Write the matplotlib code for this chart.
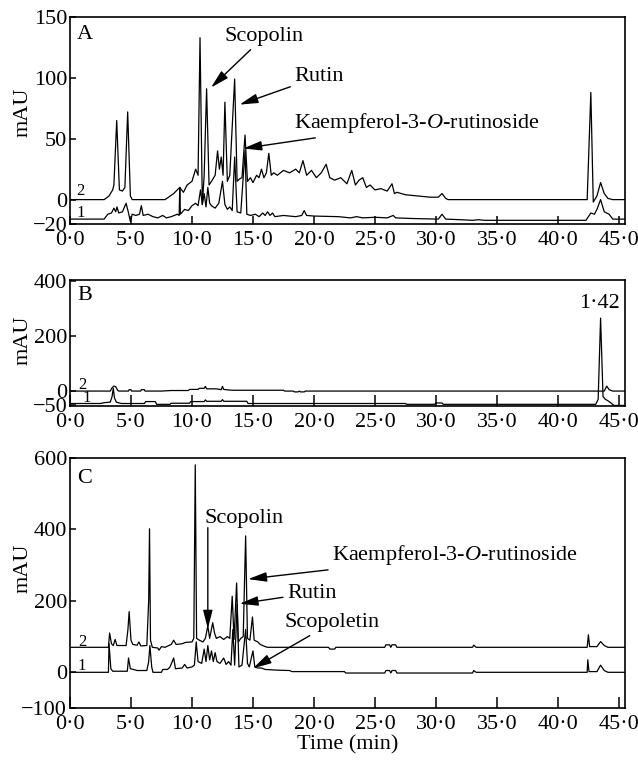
import matplotlib

matplotlib.use("Agg")
import matplotlib.pyplot as plt
import numpy as np

matplotlib.rcParams.update({
    "font.family": "Liberation Serif",
    "font.size": 16,
    "mathtext.fontset": "custom",
    "mathtext.rm": "Liberation Serif",
    "mathtext.it": "Liberation Serif:italic",
    "axes.linewidth": 1.2,
})

# Chromatogram traces, (time in min, mAU) pairs.
A_TRACE2 = [
    (0, 0), (2.8, 0), (3.2, 3), (3.5, 8), (3.6, 12), (3.83, 65), (4.05, 8), (4.3, 7),
    (4.5, 10), (4.73, 72), (4.95, 3), (5.1, 0), (7.8, 0), (8.5, 5), (9.0, 10), (9.3, 6),
    (9.6, 12), (10.0, 15), (10.3, 25), (10.5, 20), (10.66, 133), (10.85, -4), (11.0, 20),
    (11.2, 91), (11.4, 12), (11.6, 15), (11.9, 20), (12.1, 40), (12.25, 25), (12.4, 35),
    (12.55, 20), (12.7, 80), (12.9, 15), (13.1, 20), (13.3, 60), (13.5, 99), (13.7, 15),
    (13.9, 17), (14.1, 18), (14.35, 53), (14.55, 15), (14.8, 18), (15.0, 14), (15.3, 20),
    (15.5, 18), (15.7, 25), (15.9, 18), (16.1, 22), (16.3, 38), (16.5, 20), (16.7, 22),
    (17.0, 20), (17.5, 24), (18.0, 22), (18.5, 25), (18.8, 22), (19.1, 32), (19.4, 20),
    (19.8, 24), (20.2, 18), (20.6, 22), (21.0, 29), (21.3, 18), (21.7, 16), (22.2, 18),
    (22.7, 13), (23.1, 24), (23.4, 12), (23.7, 16), (24.0, 18), (24.3, 10), (24.6, 12),
    (25.0, 8), (25.5, 9), (26.0, 7), (26.4, 13), (26.6, 5), (26.8, 6), (27.5, 4),
    (28.5, 3), (29.5, 2), (30.2, 2), (30.5, 5), (30.8, 1), (31.0, 0), (42.4, 0),
    (42.7, 88), (42.9, -2), (43.2, 3), (43.5, 14), (43.8, 5), (44.1, 1), (44.5, 0),
    (45.5, 0),
]
A_TRACE1 = [
    (0, -16), (2.8, -16), (3.1, -12), (3.4, -11), (3.6, -7), (3.75, -10), (3.85, -6),
    (4.0, -11), (4.3, -10), (4.6, -3), (4.8, -11), (4.95, -18), (5.1, -12), (5.4, -13),
    (5.7, -12), (5.85, -5), (6.0, -13), (6.4, -12), (6.8, -14), (7.2, -15), (7.6, -13),
    (7.9, -15), (8.3, -14), (8.8, -12), (8.95, -13), (9.0, 10), (9.05, -12), (9.4, -8),
    (9.7, -9), (10.0, -5), (10.3, -3), (10.5, -5), (10.7, 8), (10.85, -4), (11.0, 5),
    (11.15, -6), (11.3, 10), (11.45, -3), (11.6, -5), (11.9, -7), (12.2, -3), (12.5, 15),
    (12.7, -4), (12.9, -8), (13.1, -6), (13.3, -9), (13.5, 35), (13.7, -10), (14.0, -11),
    (14.35, 40), (14.5, -12), (14.8, -13), (15.2, -12), (15.5, -14), (15.8, -11),
    (16.0, -13), (16.2, -10), (16.4, -13), (16.6, -11), (16.8, -14), (17.5, -13),
    (18.5, -14), (19.0, -13), (19.2, -9), (19.4, -13), (20.0, -13.5), (22.0, -14),
    (23.0, -15), (23.5, -14), (24.0, -15), (25.0, -14.5), (26.0, -15), (26.5, -13),
    (26.7, -15), (28.0, -15.5), (30.2, -16), (30.5, -12), (30.8, -16), (32.0, -16.5),
    (33.0, -17), (33.5, -16.5), (34.0, -17), (42.3, -17), (42.5, -14), (42.7, -11),
    (43.0, -12), (43.2, -8), (43.5, 0), (43.8, -10), (44.2, -12), (44.5, -16), (45.5, -16),
]

B_TRACE2 = [
    (0, 0), (3.3, 0), (3.45, 12), (3.6, 18), (3.75, 16), (3.9, 3), (4.0, 0), (4.8, 0),
    (4.85, 5), (5.0, 5), (5.05, 0), (5.8, 0), (5.85, 5), (6.1, 5), (6.15, 0), (7.5, 0),
    (8.3, 2), (9.7, 2), (9.8, 6), (10.5, 6), (10.6, 10), (11.0, 10), (11.1, 17),
    (11.2, 8), (12.0, 8), (12.4, 5), (12.5, 17), (12.6, 6), (13.0, 4), (13.3, 3),
    (17.5, 3), (17.6, 0), (18.3, 0), (18.4, -3), (18.7, -3), (18.8, 0), (18.9, -3),
    (19.2, -3), (19.3, 0), (43.8, 0), (44.0, 18), (44.2, 5), (44.5, 0), (45.5, 0),
]
B_TRACE1 = [
    (0, -45), (2.5, -45), (2.8, -42), (3.3, -40), (3.45, -20), (3.55, 10), (3.65, -25),
    (3.8, -40), (4.2, -45), (6.1, -45), (6.2, -38), (7.0, -38), (7.1, -48), (8.2, -48),
    (8.3, -44), (9.8, -44), (9.9, -38), (11.0, -38), (11.1, -32), (11.2, -37),
    (12.4, -37), (12.5, -31), (12.6, -37), (14.5, -37), (14.6, -45), (27.5, -45),
    (27.6, -48), (29.9, -48), (30.0, -43), (30.5, -43), (30.6, -48), (43.1, -48),
    (43.3, -30), (43.5, 264), (43.7, -20), (43.9, -30), (44.1, -35), (44.4, -45),
    (44.6, -52), (45.5, -52),
]

C_TRACE2 = [
    (0, 70), (3.15, 70), (3.25, 110), (3.4, 80), (3.55, 75), (3.7, 92), (3.85, 75),
    (4.6, 75), (4.75, 120), (4.85, 170), (5.0, 90), (5.15, 78), (5.5, 76), (5.65, 85),
    (5.8, 74), (6.3, 75), (6.45, 200), (6.52, 402), (6.6, 90), (6.75, 70), (7.2, 68),
    (7.3, 62), (7.5, 72), (7.8, 70), (8.1, 75), (8.3, 78), (8.5, 90), (8.7, 78),
    (9.2, 80), (9.5, 84), (10.0, 85), (10.15, 95), (10.27, 581), (10.38, 95), (10.6, 90),
    (10.9, 85), (11.1, 95), (11.3, 130), (11.45, 95), (11.7, 139), (11.85, 110),
    (12.0, 95), (12.3, 100), (12.6, 92), (12.9, 100), (13.1, 95), (13.3, 213),
    (13.45, 92), (13.66, 250), (13.8, 85), (14.0, 95), (14.2, 100), (14.4, 382),
    (14.55, 95), (14.75, 90), (14.96, 155), (15.1, 90), (15.4, 85), (15.6, 78),
    (16.0, 72), (16.2, 70), (21.2, 70), (21.3, 65), (21.7, 65), (21.8, 70), (25.8, 70),
    (25.9, 77), (26.2, 77), (26.3, 70), (26.4, 77), (26.7, 77), (26.8, 70), (33.0, 70),
    (33.1, 76), (33.3, 70), (42.4, 70), (42.5, 105), (42.6, 72), (43.2, 72), (43.5, 86),
    (43.8, 75), (44.1, 70), (45.5, 70),
]
C_TRACE1 = [
    (0, 0), (3.15, 0), (3.2, 80), (3.35, 10), (3.5, 3), (4.7, 3), (4.8, 40), (4.95, 10),
    (5.2, 8), (5.5, 5), (6.3, 5), (6.45, 30), (6.55, 75), (6.7, 15), (6.8, 0), (7.5, 0),
    (7.6, 8), (8.0, 8), (8.2, 15), (8.5, 40), (8.65, 10), (9.2, 12), (9.4, 22),
    (9.6, 12), (10.0, 15), (10.2, 20), (10.35, 85), (10.5, 30), (10.8, 25), (11.0, 65),
    (11.15, 30), (11.3, 75), (11.45, 35), (11.6, 60), (11.75, 30), (11.9, 55),
    (12.05, 30), (12.3, 25), (12.6, 40), (12.8, 22), (13.0, 30), (13.2, 20),
    (13.35, 120), (13.5, 20), (13.7, 190), (13.85, 15), (14.1, 20), (14.4, 120),
    (14.55, 25), (14.7, 15), (15.0, 60), (15.15, 15), (15.4, 12), (15.7, 12), (16.0, 8),
    (17.0, 6), (18.0, 5), (18.2, 2), (22.5, 2), (22.6, -2), (25.8, -2), (25.9, 5),
    (26.2, 5), (26.3, -2), (26.4, 5), (26.7, 5), (26.8, -2), (33.0, -2), (33.1, 5),
    (33.3, 0), (42.4, 0), (42.45, 35), (42.55, 2), (43.2, 2), (43.5, 20), (43.8, 5),
    (44.1, 0), (45.5, 0),
]

X_TICKS = [0, 5, 10, 15, 20, 25, 30, 35, 40, 45]
A_YTICKS = [-20, 0, 50, 100, 150]
B_YTICKS = [-50, 0, 200, 400]
C_YTICKS = [-100, 0, 200, 400, 600]

KAEMPFEROL = "Kaempferol-3-$O$-rutinoside"


def _setup_panel(ax, ylim, yticks, letter, letter_y, tick_len, label_y, trace_labels):
    ax.set_xlim(0, 45.5)
    ax.set_ylim(*ylim)
    ax.set_xticks(X_TICKS)
    ax.set_xticklabels([f"{t:.1f}".replace(".", "·") for t in X_TICKS])
    ax.set_yticks(yticks)
    ax.tick_params(axis="x", direction="in", length=tick_len, width=1.1, pad=5)
    ax.tick_params(axis="y", direction="in", length=4, width=1.1, pad=2)
    ax.set_ylabel("mAU")
    ax.yaxis.set_label_coords(-0.068, label_y)
    ax.text(0.013, letter_y, letter, transform=ax.transAxes, va="center", ha="left")
    for (t, v, s) in trace_labels:
        ax.text(t, v, s, fontsize=12, ha="left", va="center")


def _plot_trace(ax, pairs):
    arr = np.array(pairs, dtype=float)
    ax.plot(arr[:, 0], arr[:, 1], color="black", linewidth=0.9)


def _arrow(ax, text, tip, text_pos, **kw):
    ax.annotate(
        text, xy=tip, xytext=text_pos, ha="left", va="center",
        arrowprops=dict(arrowstyle="-|>,head_length=0.7,head_width=0.18",
                        color="black", lw=1.0, shrinkA=1, shrinkB=0),
        **kw,
    )


def main():
    fig = plt.figure(figsize=(6.38, 7.6), dpi=100)
    ax_a = fig.add_axes([0.1097, 0.7053, 0.8699, 0.2724])
    ax_b = fig.add_axes([0.1097, 0.4658, 0.8699, 0.1658])
    ax_c = fig.add_axes([0.1097, 0.0684, 0.8699, 0.3289])

    # Panel A
    _plot_trace(ax_a, A_TRACE2)
    _plot_trace(ax_a, A_TRACE1)
    _setup_panel(ax_a, (-20, 150), A_YTICKS, "A", 0.915, 6, 0.54,
                 [(0.55, 7, "2"), (0.55, -11, "1")])
    _arrow(ax_a, "Scopolin", (11.56, 92), (12.7, 134))
    _arrow(ax_a, "Rutin", (13.9, 78), (18.4, 101))
    _arrow(ax_a, KAEMPFEROL, (14.2, 42), (18.4, 63))

    # Panel B
    _plot_trace(ax_b, B_TRACE2)
    _plot_trace(ax_b, B_TRACE1)
    _setup_panel(ax_b, (-54, 402), B_YTICKS, "B", 0.88, 8, 0.52,
                 [(0.65, 22, "2"), (1.0, -26, "1")])
    ax_b.text(43.4, 316, "1·42", ha="center", va="center")

    # Panel C
    _plot_trace(ax_c, C_TRACE2)
    _plot_trace(ax_c, C_TRACE1)
    _setup_panel(ax_c, (-100, 600), C_YTICKS, "C", 0.92, 8, 0.56,
                 [(0.65, 84, "2"), (0.65, 19, "1")])
    ax_c.text(11.05, 430, "Scopolin", ha="left", va="center")
    ax_c.annotate("", xy=(11.3, 122), xytext=(11.3, 405),
                  arrowprops=dict(arrowstyle="-|>,head_length=0.7,head_width=0.18",
                                  color="black", lw=1.0, shrinkA=0, shrinkB=0))
    _arrow(ax_c, KAEMPFEROL, (14.6, 261), (21.5, 328))
    _arrow(ax_c, "Rutin", (13.9, 192), (17.8, 222))
    _arrow(ax_c, "Scopoletin", (15.0, 11), (17.6, 139))
    ax_c.set_xlabel("Time (min)", labelpad=1)

    fig.savefig("out.png", dpi=100)
    plt.close(fig)


if __name__ == "__main__":
    main()
